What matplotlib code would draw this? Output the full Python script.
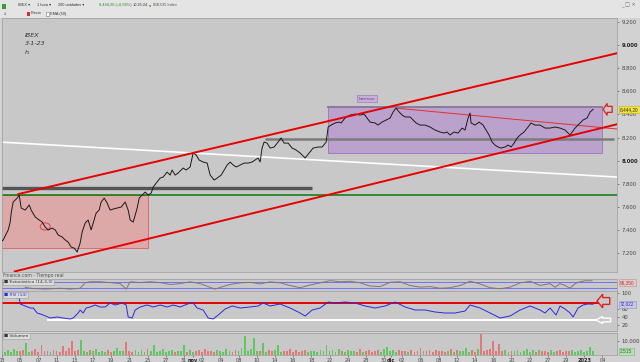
import numpy as np
import matplotlib
matplotlib.use("Agg")
import matplotlib.pyplot as plt
from matplotlib.patches import Rectangle, Ellipse, Polygon
from matplotlib.transforms import blended_transform_factory

# x axis: trading session number, 0 = 5 Oct 2022 (hourly IBEX chart)
price_day = [-2.20, -1.87, -1.32, -1.10, -0.99, -0.77, -0.33, -0.11, 0.11, 0.55, 0.99, 1.21, 1.65, 2.09,
             2.42, 2.75, 3.08, 3.52, 3.85, 4.18, 4.62, 4.95, 5.27, 5.60, 5.93, 6.26, 6.59, 6.81, 7.14,
             7.47, 7.80, 8.02, 8.35, 8.68, 8.90, 9.23, 9.56, 9.89, 10.22, 10.66, 11.10, 11.54, 11.87,
             12.09, 12.42, 12.64, 12.86, 13.08, 13.41, 13.74, 14.07, 14.40, 14.62, 14.95, 15.38, 15.71,
             16.15, 16.48, 16.70, 17.03, 17.36, 17.91, 18.24, 18.68, 19.01, 19.34, 19.67, 20.11, 20.55,
             20.88, 21.32, 21.65, 22.09, 22.42, 22.75, 23.08, 23.41, 23.74, 24.18, 24.62, 25.05, 25.49,
             25.82, 26.15, 26.37, 26.59, 26.81, 27.14, 27.47, 27.91, 28.35, 28.68, 29.01, 29.45, 29.89,
             30.33, 30.77, 31.32, 31.76, 32.20, 32.75, 33.19, 33.63, 33.85, 34.18, 34.62, 35.05, 35.27,
             35.71, 36.26, 36.81, 37.36, 37.80, 38.13, 38.46, 39.01, 39.34, 39.78, 40.22, 40.66, 40.99,
             41.32, 41.65, 41.98, 42.31, 42.86, 43.52, 43.96, 44.51, 45.05, 45.60, 46.15, 46.59, 46.92,
             47.25, 47.69, 48.13, 48.57, 48.90, 49.23, 49.45, 49.56, 50.00, 50.44, 50.88, 51.21, 51.54,
             51.87, 52.20, 52.53, 52.86, 53.30, 53.63, 53.96, 54.29, 54.62, 54.95, 55.38, 55.82, 56.15,
             56.59, 57.14, 57.69, 58.24, 58.79, 59.34, 59.89, 60.44, 60.99, 61.54, 61.87, 62.31, 62.64,
             62.97]
price_close = [7295, 7313, 7400, 7468, 7546, 7642, 7676, 7702, 7590, 7572, 7616, 7572, 7512, 7486,
               7468, 7425, 7400, 7416, 7400, 7356, 7339, 7313, 7295, 7252, 7243, 7209, 7287, 7382, 7460,
               7486, 7400, 7460, 7546, 7572, 7642, 7676, 7633, 7572, 7581, 7590, 7598, 7642, 7572,
               7486, 7468, 7529, 7590, 7676, 7702, 7728, 7702, 7720, 7771, 7806, 7849, 7858,
               7901, 7875, 7919, 7875, 7893, 7936, 7919, 7945, 8066, 8049, 8005, 7988, 7979,
               7875, 7832, 7849, 7875, 7919, 7962, 7988, 7962, 7945, 7962, 7979, 7979, 7988,
               8005, 8023, 7988, 8109, 8161, 8152, 8109, 8118, 8161, 8196, 8152, 8152, 8109,
               8092, 8066, 8023, 8066, 8109, 8118, 8118, 8161, 8291, 8308, 8326, 8334, 8326,
               8369, 8395, 8403, 8395, 8403, 8369, 8334, 8326, 8308, 8334, 8352, 8369, 8421,
               8455, 8421, 8395, 8378, 8378, 8326, 8308, 8308, 8291, 8265, 8248, 8239, 8248,
               8222, 8248, 8239, 8282, 8265, 8369, 8412, 8326, 8308, 8334, 8308, 8265, 8222,
               8161, 8135, 8118, 8109, 8118, 8135, 8118, 8152, 8196, 8222, 8248, 8291, 8326,
               8308, 8308, 8282, 8282, 8291, 8282, 8265, 8222, 8282, 8326, 8352, 8369, 8421,
               8444]

stoch_day = [0.55, 1.10, 2.75, 4.40, 5.49, 6.59, 7.14, 7.69, 8.79, 9.89, 10.99, 11.65, 12.09, 13.19,
             14.29, 15.38, 16.48, 17.58, 18.68, 19.78, 20.88, 21.43, 21.98, 23.08, 24.18, 25.27, 26.37,
             27.47, 28.57, 29.67, 30.77, 31.87, 32.97, 34.07, 35.16, 36.26, 37.36, 38.46, 39.56, 40.66,
             41.76, 42.86, 43.96, 45.05, 46.15, 47.25, 48.35, 49.45, 50.55, 51.65, 52.75, 53.85, 54.95,
             56.04, 57.14, 58.24, 58.79, 59.34, 59.89, 60.44, 60.99, 61.54, 62.09, 62.86]
stoch_val = [29, 20, 12, 20, 12, 20, 70, 80, 80, 72, 63, 12, 80, 72,
             80, 72, 55, 63, 80, 63, 28, 12, 28, 55, 70, 75, 60,
             80, 70, 45, 25, 50, 70, 90, 80, 85, 70, 40, 35, 75,
             80, 45, 30, 35, 20, 25, 45, 85, 60, 25, 15, 30, 70,
             85, 46, 63, 29, 63, 46, 20, 63, 80, 89, 89]

rsi_day = [-0.44, -0.11, 0.00, 0.55, 1.10, 1.43, 1.87, 2.53, 3.30, 4.07, 4.73, 5.49, 5.82, 6.37, 6.59,
           6.92, 7.25, 7.69, 8.24, 8.79, 9.34, 9.89, 10.44, 11.21, 11.65, 11.87, 12.31, 12.64, 13.19,
           13.96, 14.62, 15.38, 16.15, 16.81, 17.58, 18.13, 18.68, 19.01, 19.45, 20.11, 20.66, 21.21,
           21.76, 22.53, 23.30, 24.18, 25.27, 26.15, 26.70, 27.47, 28.57, 29.67, 30.77, 31.32, 32.09,
           32.97, 33.85, 34.62, 35.71, 36.81, 37.91, 39.01, 40.11, 41.21, 42.31, 43.41, 44.51, 45.60,
           46.70, 47.80, 48.90, 49.45, 50.55, 51.65, 52.75, 53.85, 54.95, 56.04, 57.14, 57.69, 58.24,
           58.90, 59.34, 59.89, 60.44, 60.77, 61.32, 61.87, 62.42, 62.97]
rsi_val = [87.5, 87.5, 72.5, 67.5, 62.5, 62.5, 50, 45, 37.5, 40, 37.5, 35, 37.5, 50, 57.5,
           50, 62.5, 65, 70, 65, 65, 75, 70, 75, 70, 40, 37.5, 57.5, 65,
           70, 65, 70, 65, 70, 65, 70, 75, 75, 62.5, 57.5, 37.5, 35,
           45, 60, 67.5, 62.5, 65, 67.5, 75, 67.5, 72.5, 62.5, 50, 42.5, 57.5,
           62.5, 77.5, 75, 77.5, 75, 67.5, 62.5, 67.5, 77.5, 65, 57.5, 57.5, 52.5,
           50, 50, 55, 70, 62.5, 50, 37.5, 42.5, 57.5, 67.5, 57.5, 50, 62.5,
           45, 67.5, 60, 50, 40, 62.5, 70, 72.5, 72]

# volume, hundreds of contracts, one bar every third of a session from session -2
volume = [30, 22, 35, 18, 40, 25, 28, 33, 85, 24, 30, 45, 20, 70,
          26, 32, 19, 38, 27, 22, 64, 30, 48, 100, 25, 35, 107, 28,
          20, 34, 26, 42, 18, 30, 24, 37, 22, 29, 50, 25, 31, 93,
          27, 20, 36, 24, 33, 19, 40, 26, 70, 22, 30, 45, 21, 28,
          35, 18, 27, 32, 70, 24, 38, 20, 29, 34, 22, 41, 25, 30,
          19, 36, 27, 23, 44, 30, 21, 33, 26, 48, 135, 29, 40, 120,
          25, 31, 85, 22, 37, 28, 34, 70, 20, 30, 26, 43, 24, 35,
          19, 29, 38, 23, 32, 27, 21, 36, 30, 70, 25, 33, 22, 40,
          28, 20, 35, 26, 31, 24, 45, 19, 30, 37, 23, 29, 34, 21,
          42, 57, 26, 33, 20, 38, 27, 30, 24, 36, 22, 31, 47, 25,
          29, 34, 20, 39, 26, 32, 23, 28, 44, 21, 35, 27, 30, 52,
          24, 36, 22, 41, 150, 28, 33, 45, 100, 30, 80, 26, 38, 22,
          31, 27, 35, 20, 29, 40, 24, 33, 21, 37, 26, 30, 23, 34,
          19, 28, 36, 22, 31, 25, 39, 20, 27, 33, 24, 30, 57, 26]
vol_day = -2 + np.arange(len(volume)) / 3.0

date_ticks = [-2, 0, 2, 4, 6, 8, 10, 12, 14, 16, 18, 19.0, 20, 22, 24, 26, 28, 30, 32, 34, 36, 38,
              40, 40.8, 42, 44, 46, 48, 50, 52, 54, 56, 58, 60, 62, 64]
date_labels = ["03", "05", "07", "11", "13", "17", "19", "21", "25", "27", "31", "nov", "02", "04",
               "08", "10", "14", "16", "18", "22", "24", "28", "30", "dic", "02", "06", "08", "12",
               "14", "16", "20", "22", "27", "29", "2023", "04"]

# drawn studies on the price panel (session, price)
upper_channel = ([-0.2, 65.6], [7711, 8930])
lower_channel = ([-0.6, 65.6], [7041, 8315])
thin_red = ([41.3, 65.6], [8455, 8274])
white_line = ([-2.2, 65.6], [8161, 7858])
dark_level = ([-2.2, 32.1], [7763, 7763])
grey_level = ([26.9, 65.3], [8187, 8187])
green_level = 7700
last_price = 8444.20

W, H = 640, 362


def box(l, t, r, b):
    return [l / W, 1 - b / H, (r - l) / W, (b - t) / H]


def left_arrow(ax, tip_x, tip_y, w, h, ec, lw=1.0):
    pts = [(tip_x, tip_y), (tip_x + 0.45 * w, tip_y + h / 2), (tip_x + 0.45 * w, tip_y + h / 4),
           (tip_x + w, tip_y + h / 4), (tip_x + w, tip_y - h / 4), (tip_x + 0.45 * w, tip_y - h / 4),
           (tip_x + 0.45 * w, tip_y - h / 2)]
    ax.add_patch(Polygon(pts, closed=True, fc="none", ec=ec, lw=lw, zorder=6, clip_on=False))


fmt = lambda v: f"{v:,.0f}".replace(",", ".")
bg = "#c8c8c8"
tcol = "#444444"
small = "Liberation Sans"

fig = plt.figure(figsize=(6.4, 3.62), dpi=100)
fig.patch.set_facecolor("#d2d2d2")

# toolbar
fig.patches.append(Rectangle((0, 1 - 18 / H), 1, 18 / H, transform=fig.transFigure,
                             fc="#e4e4e4", ec="none", zorder=0))
fig.patches.append(Rectangle((2 / W, 1 - 9 / H), 4 / W, 5 / H, transform=fig.transFigure,
                             fc="#3a9a3a", ec="none"))
tb = [(18, 5, "IBEX ▾", "#333333"), (37, 5, "1 hora ▾", "#333333"),
      (58, 5, "200 unidades ▾", "#333333"), (99, 5, "8.444,20 (+0,69%)", "#1f8f1f"),
      (133, 5, "10:25:24", "#333333"), (149, 5, "●", "#2a9a2a"), (153, 5, "IBEX35 Index", "#555555"),
      (31, 13.5, "Precio", "#333333"), (50, 13.5, "EMA (50)", "#333333"), (4, 13.5, "≡", "#555555")]
for x, y, s, c in tb:
    fig.text(x / W, 1 - y / H, s, fontsize=2.8, family=[small, "DejaVu Sans"], color=c,
             va="center", ha="left")
fig.patches.append(Rectangle((27 / W, 1 - 15.5 / H), 3 / W, 4 / H, transform=fig.transFigure,
                             fc="#d03030", ec="none"))
fig.patches.append(Rectangle((46 / W, 1 - 15.5 / H), 3 / W, 4 / H, transform=fig.transFigure,
                             fc="white", ec="#777777", lw=0.4))
fig.text(621 / W, 1 - 5 / H, "_ □ ×", fontsize=3.6, color="#666666", va="center")

ax = fig.add_axes(box(2, 18, 617, 272))
ax_st = fig.add_axes(box(2, 279, 617, 291), sharex=ax)
ax_rsi = fig.add_axes(box(2, 291, 617, 331), sharex=ax)
ax_vol = fig.add_axes(box(2, 333, 617, 355), sharex=ax)

for a in (ax, ax_st, ax_rsi, ax_vol):
    a.set_facecolor(bg)
    for s in a.spines.values():
        s.set_color("#9c9c9c")
        s.set_linewidth(0.5)
    a.yaxis.tick_right()
    a.tick_params(axis="y", labelsize=3.8, colors=tcol, length=1.5, width=0.4, pad=2)
    a.tick_params(axis="x", bottom=False, labelbottom=False)

ax.set_xlim(-1.98, 65.6)

# price panel
ax.set_ylim(7036, 9235)
yt = list(range(7200, 9201, 200))
ax.set_yticks(yt)
ax.set_yticklabels([fmt(v) for v in yt])
for lab, v in zip(ax.get_yticklabels(), yt):
    if v % 1000 == 0:
        lab.set_fontweight("bold")
        lab.set_color("#222222")

ax.add_patch(Rectangle((-2.2, 7243), 14.07 + 2.2, green_level - 7243, fc="#dca8a8", ec="#e06a6a",
                       lw=0.7, zorder=1))
ax.add_patch(Rectangle((33.85, 8066), 63.96 - 33.85, 8464 - 8066, fc="#bba2cc", ec="#a07cbf",
                       lw=0.7, zorder=1))
ax.plot([33.85, 63.96], [8464, 8464], color="#8c7a9c", lw=1.4, zorder=2)
ax.add_patch(Ellipse((2.75, 7430), 1.1, 62, fc="none", ec="#e04040", lw=0.7, zorder=4))

ax.plot(*dark_level, color="#555555", lw=2.4, zorder=2, solid_capstyle="butt")
ax.plot(*grey_level, color="#7c7c7c", lw=1.8, zorder=2, solid_capstyle="butt")
ax.axhline(green_level, color="#0a7a0a", lw=1.1, zorder=2)
ax.plot(*white_line, color="white", lw=1.2, zorder=2)
ax.plot(*thin_red, color="#e03030", lw=0.7, zorder=3)
ax.plot(price_day, price_close, color="#1a1a1a", lw=0.7, zorder=4)
ax.plot(*upper_channel, color="#e80000", lw=1.4, zorder=5)
ax.plot(*lower_channel, color="#e80000", lw=1.4, zorder=5)

ax.text(38.1, 8538, "batmon", fontsize=3.2, color="#7a3f9a", ha="center", va="center", zorder=6,
        bbox=dict(fc="#c6b0d6", ec="#a07cbf", lw=0.5, boxstyle="square,pad=0.4"))
for y, s in [(9087, "IBEX"), (9010, "3-1-23"), (8932, "h.")]:
    ax.text(0.55, y, s, fontsize=4.6, style="italic", color="#333333", va="center")

tr = blended_transform_factory(ax.transAxes, ax.transData)
ax.text(1.005, last_price, "8.444,20", transform=tr, fontsize=3.4, family=small, color="#333300",
        va="center", clip_on=False, zorder=7,
        bbox=dict(fc="#f0e24a", ec="#c8b400", lw=0.4, boxstyle="square,pad=0.25"))
left_arrow(ax, 64.07, last_price, 1.0, 104, "#e02020", lw=0.9)

fig.text(3 / W, 1 - 275.5 / H, "Finance.com - Tiempo real", fontsize=3.3, color="#555555", va="center")

# stochastic
ax_st.set_ylim(-5.7, 105.7)
ax_st.set_yticks([])
ax_st.axhline(80, color="#6464ff", lw=0.6)
ax_st.axhline(20, color="#6464ff", lw=0.6)
ax_st.plot(stoch_day, stoch_val, color="#8a7272", lw=0.7)
ax_st.text(0.004, 0.72, "■ Estocástico (14,3,3)", transform=ax_st.transAxes, fontsize=3.2,
           color="#333333", va="center", bbox=dict(fc="#dcdcdc", ec="#9c9c9c", lw=0.4,
                                                   boxstyle="square,pad=0.25"))
ax_st.text(1.005, 0.72, "96,350", transform=ax_st.transAxes, fontsize=3.4, family=small,
           color="#a04040", va="center", clip_on=False,
           bbox=dict(fc="#e8c8c8", ec="#c09090", lw=0.4, boxstyle="square,pad=0.25"))

# RSI
ax_rsi.set_ylim(5, 105)
ax_rsi.set_yticks([20, 40, 60, 100])
ax_rsi.axhline(76, xmax=(63.5 + 1.98) / (65.6 + 1.98), color="#e80000", lw=1.4)
ax_rsi.plot([3.08, 63.2], [32.5, 32.5], color="white", lw=1.5)
ax_rsi.plot(rsi_day, rsi_val, color="#2a2ae0", lw=0.7)
left_arrow(ax_rsi, 63.4, 80, 1.4, 34, "#e02020", lw=1.0)
left_arrow(ax_rsi, 63.3, 32.5, 1.6, 18, "white", lw=1.0)
ax_rsi.text(0.004, 0.9, "■ RSI (14)", transform=ax_rsi.transAxes, fontsize=3.2, color="#2a2ae0",
            va="center", bbox=dict(fc="#dcdcdc", ec="#9c9c9c", lw=0.4, boxstyle="square,pad=0.25"))
ax_rsi.text(1.005, 72, "72,022", transform=blended_transform_factory(ax_rsi.transAxes, ax_rsi.transData),
            fontsize=3.4, family=small, color="#3030b0", va="center", clip_on=False,
            bbox=dict(fc="#c8c8e8", ec="#9090c0", lw=0.4, boxstyle="square,pad=0.25"))

# volume
up = np.diff(np.interp(vol_day, price_day, price_close), prepend=price_close[0]) >= 0
vcol = np.where(up, "#5ec85e", "#e07a7a")
ax_vol.bar(vol_day, np.array(volume) * 100, width=0.2, color=vcol, lw=0)
ax_vol.set_ylim(0, 15714)
ax_vol.set_yticks([10000])
ax_vol.set_yticklabels(["10.000"])
ax_vol.text(0.004, 0.88, "■ Volumen", transform=ax_vol.transAxes, fontsize=3.2, color="#333333",
            va="center", bbox=dict(fc="#dcdcdc", ec="#9c9c9c", lw=0.4, boxstyle="square,pad=0.25"))
ax_vol.text(1.005, 2515, "2.515", transform=blended_transform_factory(ax_vol.transAxes, ax_vol.transData),
            fontsize=3.4, family=small, color="#207020", va="center", clip_on=False,
            bbox=dict(fc="#b8dcb8", ec="#80b080", lw=0.4, boxstyle="square,pad=0.25"))

ax_vol.set_xticks(date_ticks)
ax_vol.set_xticklabels(date_labels)
ax_vol.tick_params(axis="x", bottom=True, labelbottom=True, labelsize=3.6, colors=tcol,
                   length=1.2, width=0.4, pad=1)
for lab in ax_vol.get_xticklabels():
    if lab.get_text() in ("nov", "dic", "2023"):
        lab.set_fontweight("bold")
        lab.set_color("#222222")
for a in (ax, ax_st, ax_rsi):
    a.tick_params(axis="x", bottom=False, labelbottom=False)

fig.savefig("out.png", dpi=100, facecolor=fig.get_facecolor())
plt.close(fig)
